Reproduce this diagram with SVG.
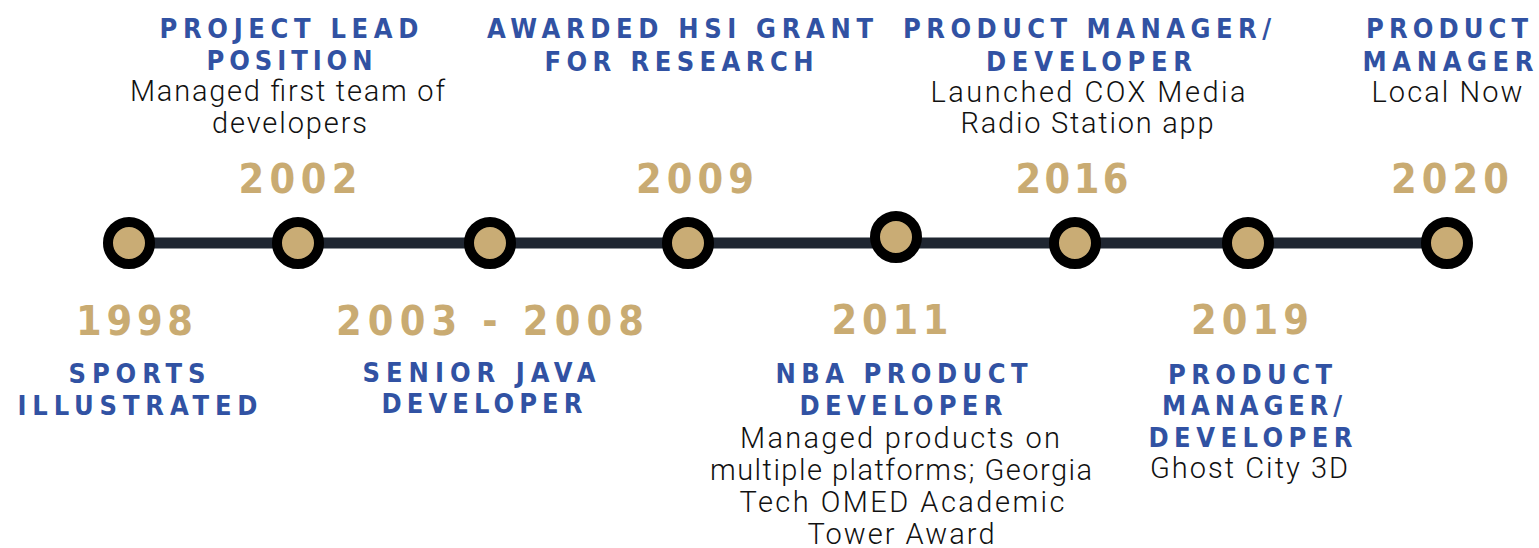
<svg xmlns="http://www.w3.org/2000/svg" width="1539" height="548" viewBox="0 0 1539 548">
  <style>
    .year { font-family: "DejaVu Sans Condensed", "DejaVu Sans", sans-serif; font-stretch: condensed; font-weight: 700; font-size: 41px; fill: #c9ab72; text-anchor: middle; }
    .head { font-family: "DejaVu Sans Condensed", "DejaVu Sans", sans-serif; font-stretch: condensed; font-weight: 700; font-size: 27px; fill: #3152a3; text-anchor: middle; }
    .body { font-family: Roboto, "Liberation Sans", sans-serif; font-weight: 300; font-size: 29px; fill: #111111; text-anchor: middle; }
    .dot { fill: #c9ac75; stroke: #000000; stroke-width: 10; }
    .link { stroke: #1f2631; stroke-width: 11; fill: none; }
  </style>

  <!-- timeline bar -->
  <g id="connectors">
    <line class="link" x1="129" y1="243" x2="298" y2="243"/>
    <line class="link" x1="298" y1="243" x2="490" y2="243"/>
    <line class="link" x1="490" y1="243" x2="688" y2="243"/>
    <line class="link" x1="688" y1="243" x2="896" y2="243"/>
    <line class="link" x1="896" y1="243" x2="1075" y2="243"/>
    <line class="link" x1="1075" y1="243" x2="1248" y2="243"/>
    <line class="link" x1="1248" y1="243" x2="1447" y2="243"/>
  </g>

  <g id="m1998">
    <circle class="dot" cx="129" cy="243" r="21"/>
    <text class="year" x="134.5" y="335" textLength="117" lengthAdjust="spacing">1998</text>
    <text class="head" x="137" y="383" textLength="137" lengthAdjust="spacing">SPORTS</text>
    <text class="head" x="137.5" y="415" textLength="240" lengthAdjust="spacing">ILLUSTRATED</text>
  </g>

  <g id="m2002">
    <circle class="dot" cx="298" cy="243" r="21"/>
    <text class="year" x="298" y="193" textLength="119" lengthAdjust="spacing">2002</text>
    <text class="head" x="289" y="38" textLength="259" lengthAdjust="spacing">PROJECT LEAD</text>
    <text class="head" x="289.5" y="70" textLength="166" lengthAdjust="spacing">POSITION</text>
    <text class="body" x="287.5" y="101" textLength="315" lengthAdjust="spacing">Managed first team of</text>
    <text class="body" x="289.5" y="133" textLength="155" lengthAdjust="spacing">developers</text>
  </g>

  <g id="m2003">
    <circle class="dot" cx="490" cy="243" r="21"/>
    <text class="year" x="490" y="335" textLength="308" lengthAdjust="spacing">2003 - 2008</text>
    <text class="head" x="479" y="382" textLength="233" lengthAdjust="spacing">SENIOR JAVA</text>
    <text class="head" x="482" y="413" textLength="201" lengthAdjust="spacing">DEVELOPER</text>
  </g>

  <g id="m2009">
    <circle class="dot" cx="688" cy="243" r="21"/>
    <text class="year" x="695" y="193" textLength="118" lengthAdjust="spacing">2009</text>
    <text class="head" x="680" y="38" textLength="386" lengthAdjust="spacing">AWARDED HSI GRANT</text>
    <text class="head" x="679" y="71" textLength="269" lengthAdjust="spacing">FOR RESEARCH</text>
  </g>

  <g id="m2011">
    <circle class="dot" cx="896" cy="237" r="21"/>
    <text class="year" x="890" y="334" textLength="117" lengthAdjust="spacing">2011</text>
    <text class="head" x="901.5" y="383" textLength="252" lengthAdjust="spacing">NBA PRODUCT</text>
    <text class="head" x="901" y="415" textLength="203" lengthAdjust="spacing">DEVELOPER</text>
    <text class="body" x="900" y="448" textLength="320" lengthAdjust="spacing">Managed products on</text>
    <text class="body" x="901" y="480" textLength="382" lengthAdjust="spacing">multiple platforms; Georgia</text>
    <text class="body" x="902" y="512" textLength="325" lengthAdjust="spacing">Tech OMED Academic</text>
    <text class="body" x="901" y="544" textLength="187" lengthAdjust="spacing">Tower Award</text>
  </g>

  <g id="m2016">
    <circle class="dot" cx="1075" cy="243" r="21"/>
    <text class="year" x="1072" y="193" textLength="113" lengthAdjust="spacing">2016</text>
    <text class="head" x="1087" y="38" textLength="368" lengthAdjust="spacing">PRODUCT MANAGER/</text>
    <text class="head" x="1089" y="71" textLength="206" lengthAdjust="spacing">DEVELOPER</text>
    <text class="body" x="1088" y="102" textLength="315" lengthAdjust="spacing">Launched COX Media</text>
    <text class="body" x="1087" y="133" textLength="253" lengthAdjust="spacing">Radio Station app</text>
  </g>

  <g id="m2019">
    <circle class="dot" cx="1248" cy="243" r="21"/>
    <text class="year" x="1250" y="334" textLength="118" lengthAdjust="spacing">2019</text>
    <text class="head" x="1250" y="384" textLength="164" lengthAdjust="spacing">PRODUCT</text>
    <text class="head" x="1252" y="415" textLength="180" lengthAdjust="spacing">MANAGER/</text>
    <text class="head" x="1250.5" y="447" textLength="204" lengthAdjust="spacing">DEVELOPER</text>
    <text class="body" x="1249" y="478" textLength="198" lengthAdjust="spacing">Ghost City 3D</text>
  </g>

  <g id="m2020">
    <circle class="dot" cx="1447" cy="243" r="21"/>
    <text class="year" x="1450" y="193" textLength="118" lengthAdjust="spacing">2020</text>
    <text class="head" x="1447" y="38" textLength="162" lengthAdjust="spacing">PRODUCT</text>
    <text class="head" x="1448" y="71" textLength="171" lengthAdjust="spacing">MANAGER</text>
    <text class="body" x="1447" y="102" textLength="151" lengthAdjust="spacing">Local Now</text>
  </g>
</svg>
